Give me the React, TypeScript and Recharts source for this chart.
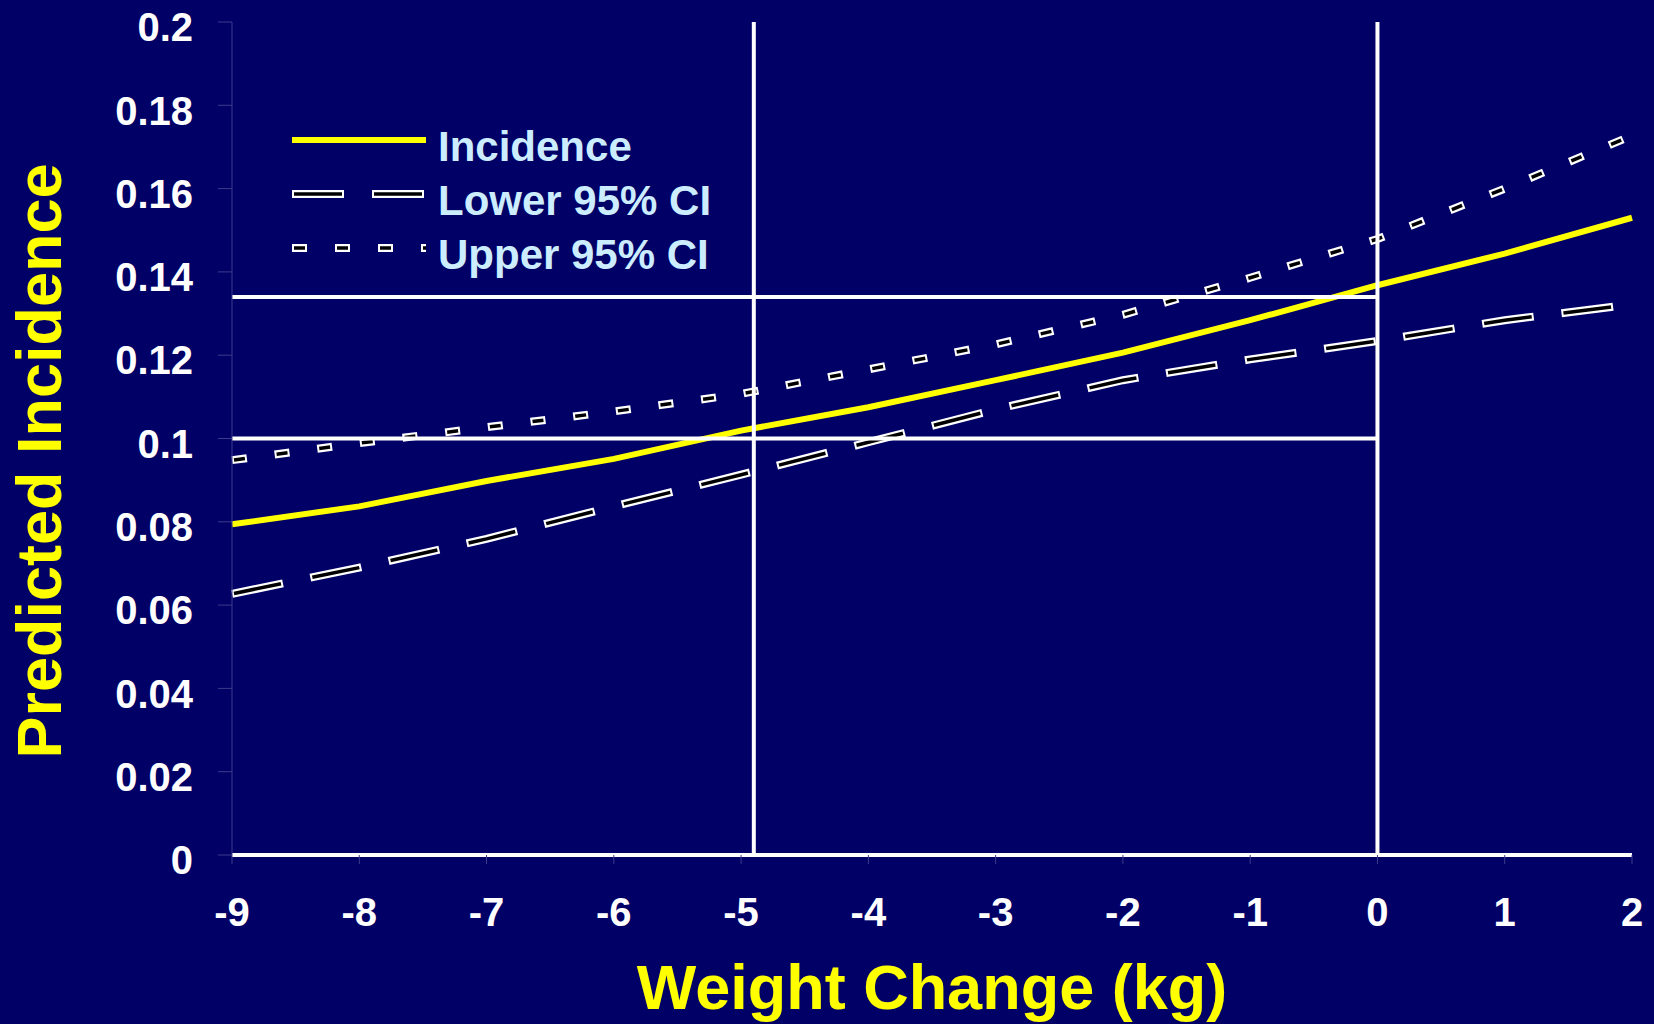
import React from 'react'
import {
  LineChart,
  Line,
  XAxis,
  YAxis,
  ReferenceLine,
} from 'recharts'

const weightChange = [-9, -8, -7, -6, -5, -4, -3, -2, -1, 0, 1, 2]
const incidence = [0.0794, 0.0837, 0.0898, 0.0951, 0.1019, 0.1075, 0.114, 0.1206, 0.1284, 0.1368, 0.1444, 0.153]
const lowerCI = [0.0627, 0.069, 0.0759, 0.0837, 0.0913, 0.0991, 0.107, 0.114, 0.119, 0.1234, 0.1284, 0.1322]
const upperCI = [0.0948, 0.0989, 0.1027, 0.1065, 0.1107, 0.1166, 0.1226, 0.1297, 0.1386, 0.1479, 0.16, 0.1727]

const xTicks = [-9, -8, -7, -6, -5, -4, -3, -2, -1, 0, 1, 2]
const yTicks = [0, 0.02, 0.04, 0.06, 0.08, 0.1, 0.12, 0.14, 0.16, 0.18, 0.2]

// white guide lines drawn across the plot
const guideX = [-4.9, 0]
const guideY = [0.1, 0.134]

const data = weightChange.map((x, i) => ({
  x,
  incidence: incidence[i],
  lower: lowerCI[i],
  upper: upperCI[i],
}))

const FONT = '"Liberation Sans", Arial, sans-serif'
const BG = '#000066'
const DIM = '#3c3c8c'

const LOWER_OUT = '52 28'
const LOWER_IN = '48 32'
const UPPER_OUT = '15 28'
const UPPER_IN = '11 32'
const OUT_W = 8
const IN_W = 3.5

function LegendBox() {
  const rows = [
    { name: 'Incidence', kind: 'solid' },
    { name: 'Lower 95% CI', kind: 'lower' },
    { name: 'Upper 95% CI', kind: 'upper' },
  ]
  return (
    <svg width={460} height={170} style={{ display: 'block' }}>
      {rows.map((r, i) => {
        const cy = 36 + i * 54
        const ly = cy - 6
        return (
          <g key={r.name}>
            {r.kind === 'solid' && (
              <line x1={12} x2={146} y1={ly} y2={ly} stroke="#ffff00" strokeWidth={6} />
            )}
            {r.kind !== 'solid' && (
              <>
                <line x1={12} x2={146} y1={ly} y2={ly} stroke="#ffffff" strokeWidth={OUT_W}
                  strokeDasharray={r.kind === 'lower' ? LOWER_OUT : UPPER_OUT} />
                <line x1={12} x2={146} y1={ly} y2={ly} stroke="#000000" strokeWidth={IN_W}
                  strokeDasharray={r.kind === 'lower' ? LOWER_IN : UPPER_IN} strokeDashoffset={-2} />
              </>
            )}
            <text x={158} y={cy + 15} fill="#ccecff" fontSize={42} fontWeight="bold" fontFamily={FONT}>
              {r.name}
            </text>
          </g>
        )
      })}
    </svg>
  )
}

export default function App() {
  return (
    <div style={{ position: 'absolute', left: 0, top: 0, width: 1654, height: 1024, background: BG }}>
      <LineChart
        width={1654}
        height={1024}
        data={data}
        margin={{ top: 22, right: 22, bottom: 0, left: 0 }}
      >
        <XAxis
          dataKey="x"
          type="number"
          domain={[-9, 2]}
          ticks={xTicks}
          interval={0}
          height={169}
          axisLine={{ stroke: '#ffffff', strokeWidth: 4 }}
          tickLine={{ stroke: DIM }}
          tickSize={9}
          tickMargin={34}
          tick={{ fill: '#ffffff', fontSize: 40, fontWeight: 'bold', fontFamily: FONT }}
          label={{
            value: 'Weight Change (kg)',
            position: 'insideBottom',
            offset: 15,
            fill: '#ffff00',
            fontSize: 63,
            fontWeight: 'bold',
            fontFamily: FONT,
          }}
        />
        <YAxis
          type="number"
          domain={[0, 0.2]}
          ticks={yTicks}
          interval={0}
          width={232}
          axisLine={{ stroke: DIM }}
          tickLine={{ stroke: DIM }}
          tickSize={14}
          tickMargin={25}
          tickFormatter={(v) => String(v)}
          tick={{ fill: '#ffffff', fontSize: 40, fontWeight: 'bold', fontFamily: FONT, dy: 5 }}
          label={{
            content: () => (
              <text
                x={61}
                y={461}
                transform="rotate(-90 61 461)"
                textAnchor="middle"
                fill="#ffff00"
                fontSize={63}
                fontWeight="bold"
                fontFamily={FONT}
              >
                Predicted Incidence
              </text>
            ),
          }}
        />
        <Line dataKey="incidence" type="linear" stroke="#ffff00" strokeWidth={6} dot={false} isAnimationActive={false} />
        <Line dataKey="lower" type="linear" stroke="#ffffff" strokeWidth={OUT_W} strokeDasharray={LOWER_OUT} dot={false} isAnimationActive={false} />
        <Line dataKey="lower" type="linear" stroke="#000000" strokeWidth={IN_W} strokeDasharray={LOWER_IN} strokeDashoffset={-2} dot={false} isAnimationActive={false} />
        <Line dataKey="upper" type="linear" stroke="#ffffff" strokeWidth={OUT_W} strokeDasharray={UPPER_OUT} dot={false} isAnimationActive={false} />
        <Line dataKey="upper" type="linear" stroke="#000000" strokeWidth={IN_W} strokeDasharray={UPPER_IN} strokeDashoffset={-2} dot={false} isAnimationActive={false} />
        <ReferenceLine x={guideX[0]} stroke="#ffffff" strokeWidth={4} />
        <ReferenceLine x={guideX[1]} stroke="#ffffff" strokeWidth={4} />
        <ReferenceLine segment={[{ x: -9, y: guideY[0] }, { x: 0, y: guideY[0] }]} stroke="#ffffff" strokeWidth={4} />
        <ReferenceLine segment={[{ x: -9, y: guideY[1] }, { x: 0, y: guideY[1] }]} stroke="#ffffff" strokeWidth={4} />
      </LineChart>
      <div style={{ position: 'absolute', top: 110, left: 280 }}>
        <LegendBox />
      </div>
    </div>
  )
}
